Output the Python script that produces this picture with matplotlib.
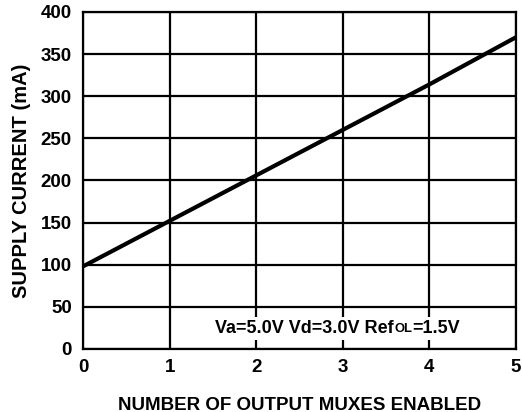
import numpy as np
import matplotlib.pyplot as plt

plt.rcParams['font.family'] = ['Liberation Sans', 'DejaVu Sans']
plt.rcParams['font.weight'] = 'bold'

# supply current vs. number of enabled output muxes
muxes = [0, 1, 2, 3, 4, 5]
current_ma = [98, 152, 206, 260, 314, 370]

xticks = [0, 1, 2, 3, 4, 5]
yticks = [0, 50, 100, 150, 200, 250, 300, 350, 400]

fig = plt.figure(figsize=(5.22, 4.12), dpi=100)
ax = fig.add_axes([0.159, 0.153, 0.8295, 0.818])

ax.plot(muxes, current_ma, color='black', lw=3, solid_capstyle='butt', zorder=4)

ax.set_xlim(0, 5)
ax.set_ylim(0, 400)
ax.set_xticks(xticks)
ax.set_yticks(yticks)
ax.grid(True, color='black', lw=1.6)
ax.set_axisbelow(True)
ax.tick_params(length=0, labelsize=13.5, pad=7)
ax.tick_params(axis='y', pad=8)
for s in ax.spines.values():
    s.set_linewidth(1.6)

ax.set_xlabel('NUMBER OF OUTPUT MUXES ENABLED', fontsize=13.5, fontweight='bold', labelpad=15)
ax.set_ylabel('SUPPLY CURRENT (mA)', fontsize=14.5, fontweight='bold', labelpad=7)

# condition label, "OL" set smaller on the baseline
fs = 13
t1 = ax.text(1.53, 24.5, 'Va=5.0V Vd=3.0V Ref', fontsize=fs, fontweight='bold',
             va='center', ha='left', zorder=5)
t2 = ax.annotate('OL', xy=(1, 0), xycoords=t1, xytext=(0, 1.2),
                 textcoords='offset points', fontsize=fs * 0.72,
                 fontweight='bold', va='bottom', ha='left', zorder=5)
t3 = ax.annotate('=1.5V', xy=(1, 0), xycoords=(t2, t1), fontsize=fs,
                 fontweight='bold', va='bottom', ha='left', zorder=5)
ax.add_patch(plt.Rectangle((1.45, 10.5), 3.45, 27.5, facecolor='white',
                           edgecolor='none', zorder=3))

fig.savefig('out.png', dpi=100)
